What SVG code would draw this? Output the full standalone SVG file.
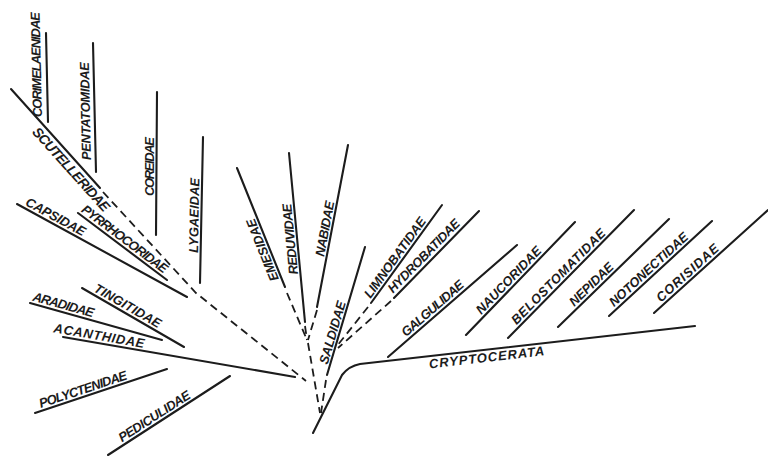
<svg xmlns="http://www.w3.org/2000/svg" width="768" height="456" viewBox="0 0 768 456">
<style>
.ln{stroke:#1c1c1c;stroke-width:2.1;fill:none;stroke-linecap:round}
.ds{stroke:#1c1c1c;stroke-width:1.8;fill:none;stroke-dasharray:8 5}
.lb{font-family:"Liberation Sans",Arial,sans-serif;font-size:13px;font-weight:bold;font-style:italic;fill:#1c1c1c}
</style>
<rect width="768" height="456" fill="#ffffff"/>
<g id="connectors">
<path class="ds" d="M103,192 L196,293 L306,381"/>
<path class="ds" d="M287,293 L307,340"/>
<path class="ds" d="M305,326 L307,340"/>
<path class="ds" d="M317,310 L308,340"/>
<path class="ds" d="M308,343 L320,413"/>
<path class="ds" d="M326,380 L321,413"/>
<path class="ds" d="M368,307 L337,346"/>
<path class="ds" d="M391,301 L338,348"/>
</g>
<g id="corimelaenidae"><path class="ln" d="M46,33 L48,122"/><text class="lb" transform="translate(42,117) rotate(-91.3)" textLength="105">CORIMELAENIDAE</text></g>
<g id="pentatomidae"><path class="ln" d="M93,43 L96,172"/><text class="lb" transform="translate(91,160) rotate(-91.3)" textLength="98">PENTATOMIDAE</text></g>
<g id="scutelleridae"><path class="ln" d="M11,89 L100,188"/><text class="lb" style="font-size:14px" transform="translate(31.5,132.5) rotate(48)" textLength="108">SCUTELLERIDAE</text></g>
<g id="coreidae"><path class="ln" d="M157,92 L156,235"/><text class="lb" transform="translate(154,196) rotate(-90)" textLength="59">COREIDAE</text></g>
<g id="lygaeidae"><path class="ln" d="M203,137 L200,283"/><text class="lb" transform="translate(198,253) rotate(-89)" textLength="75">LYGAEIDAE</text></g>
<g id="capsidae"><path class="ln" d="M17,204 L187,297"/><text class="lb" transform="translate(24.6,204.8) rotate(28.7)" textLength="66">CAPSIDAE</text></g>
<g id="pyrrhocoridae"><path class="ln" d="M78,213 L167,280"/><text class="lb" transform="translate(80.6,211.2) rotate(37)" textLength="104">PYRRHOCORIDAE</text></g>
<g id="tingitidae"><path class="ln" d="M82,288 L184,347"/><text class="lb" transform="translate(93,290.9) rotate(30)" textLength="75">TINGITIDAE</text></g>
<g id="aradidae"><path class="ln" d="M30,303 L162,340"/><text class="lb" transform="translate(32,300.4) rotate(15.7)" textLength="63">ARADIDAE</text></g>
<g id="acanthidae"><path class="ln" d="M63,337 L295,377"/><text class="lb" transform="translate(53,332.2) rotate(9.8)" textLength="92">ACANTHIDAE</text></g>
<g id="polyctenidae"><path class="ln" d="M35,413 L167,369"/><text class="lb" transform="translate(40.8,408) rotate(-18.4)" textLength="92">POLYCTENIDAE</text></g>
<g id="pediculidae"><path class="ln" d="M108,455 L230,376"/><text class="lb" transform="translate(121.9,442.5) rotate(-32.9)" textLength="83">PEDICULIDAE</text></g>
<g id="emesidae"><path class="ln" d="M237,168 L285,287"/><text class="lb" transform="translate(279,279) rotate(-112)" textLength="66">EMESIDAE</text></g>
<g id="reduvidae"><path class="ln" d="M289,153 L305,322"/><text class="lb" transform="translate(298,274) rotate(-95.5)" textLength="71">REDUVIDAE</text></g>
<g id="nabidae"><path class="ln" d="M348,145 L317,307"/><text class="lb" transform="translate(324,257) rotate(-79.2)" textLength="56">NABIDAE</text></g>
<g id="saldidae"><path class="ln" d="M365,247 L327,375"/><text class="lb" transform="translate(327.5,365) rotate(-73.5)" textLength="65">SALDIDAE</text></g>
<g id="limnobatidae"><path class="ln" d="M442,205 L371,303"/><text class="lb" transform="translate(370.5,299.1) rotate(-54.2)" textLength="96">LIMNOBATIDAE</text></g>
<g id="hydrobatidae"><path class="ln" d="M479,211 L394,298"/><text class="lb" transform="translate(393,293.8) rotate(-45.7)" textLength="97">HYDROBATIDAE</text></g>
<g id="galgulidae"><path class="ln" d="M517,245 L388,357"/><text class="lb" transform="translate(406,337.3) rotate(-41)" textLength="78">GALGULIDAE</text></g>
<g id="naucoridae"><path class="ln" d="M575,222 L466,335"/><text class="lb" transform="translate(481.2,314.9) rotate(-46)" textLength="88">NAUCORIDAE</text></g>
<g id="belostomatidae"><path class="ln" d="M634,210 L508,338"/><text class="lb" transform="translate(516.4,325.2) rotate(-45.4)" textLength="128">BELOSTOMATIDAE</text></g>
<g id="nepidae"><path class="ln" d="M669,219 L558,327"/><text class="lb" transform="translate(574.3,306.9) rotate(-44.2)" textLength="56">NEPIDAE</text></g>
<g id="notonectidae"><path class="ln" d="M712,221 L609,316"/><text class="lb" transform="translate(614.1,307.2) rotate(-42.7)" textLength="102">NOTONECTIDAE</text></g>
<g id="corisidae"><path class="ln" d="M768,210 L654,313"/><text class="lb" transform="translate(661,302.7) rotate(-42.1)" textLength="79">CORISIDAE</text></g>
<g id="cryptocerata"><path class="ln" d="M313,433 L342,375 Q349,366 360,364 L695,326"/><text class="lb" transform="translate(429.4,368.4) rotate(-6.5)" textLength="116">CRYPTOCERATA</text></g>
</svg>
